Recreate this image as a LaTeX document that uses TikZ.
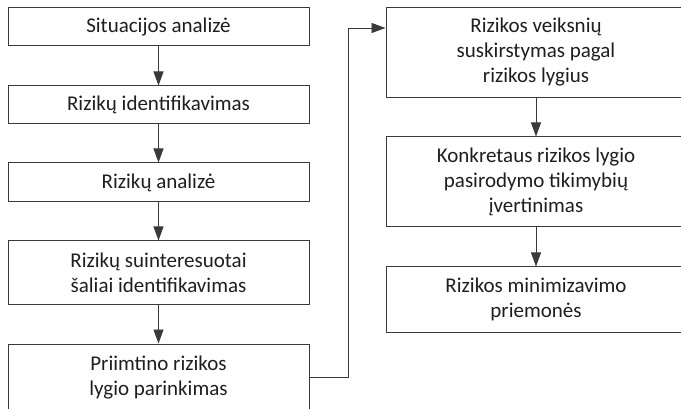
\documentclass[tikz,border=0pt]{standalone}
\usepackage{fontspec}
\setmainfont{Carlito}
\usetikzlibrary{arrows.meta}
\definecolor{linegray}{HTML}{3A3A3A}
\definecolor{textgray}{HTML}{1E1E1E}
\begin{document}
\begin{tikzpicture}[x=1pt,y=-1pt,
  stepbox/.style={draw=linegray,line width=1pt,rectangle,inner sep=0pt,
    text=textgray,align=center,
    font=\fontsize{21}{25}\selectfont},
  flow/.style={draw=linegray,line width=0.9pt,
    -{Triangle[length=14pt,width=10pt]}}]
\useasboundingbox (0,0) rectangle (681,409);
\begin{scope}
\clip (0,0) rectangle (681,409);
% left column
\node[stepbox,minimum width=301pt,minimum height=38pt] (a1) at (158.5,27) {Situacijos analizė};
\node[stepbox,minimum width=301pt,minimum height=38pt] (a2) at (158.5,105) {Rizikų identifikavimas};
\node[stepbox,minimum width=301pt,minimum height=39pt] (a3) at (158.5,182.5) {Rizikų analizė};
\node[stepbox,minimum width=301pt,minimum height=63pt] (a4) at (158.5,272.5) {Rizikų suinteresuotai\\šaliai identifikavimas};
\node[stepbox,minimum width=301pt,minimum height=68pt] (a5) at (158.5,378) {Priimtino rizikos\\lygio parinkimas};
% right column
\node[stepbox,minimum width=300pt,minimum height=90pt] (b1) at (536,52.5) {Rizikos veiksnių\\suskirstymas pagal\\rizikos lygius};
\node[stepbox,minimum width=300pt,minimum height=90pt] (b2) at (536,182) {Konkretaus rizikos lygio\\pasirodymo tikimybių\\įvertinimas};
\node[stepbox,minimum width=300pt,minimum height=65pt] (b3) at (536,299.5) {Rizikos minimizavimo\\priemonės};
\end{scope}
% connectors
\draw[flow] (a1) -- (a2);
\draw[flow] (a2) -- (a3);
\draw[flow] (a3) -- (a4);
\draw[flow] (a4) -- (a5);
\coordinate (turnlow) at (348,377);
\coordinate (turnhigh) at (348,28);
\draw[flow] (a5.east |- turnlow) -- (turnlow) -- (turnhigh) -- (b1.west |- turnhigh);
\draw[flow] (b1) -- (b2);
\draw[flow] (b2) -- (b3);
\end{tikzpicture}
\end{document}
